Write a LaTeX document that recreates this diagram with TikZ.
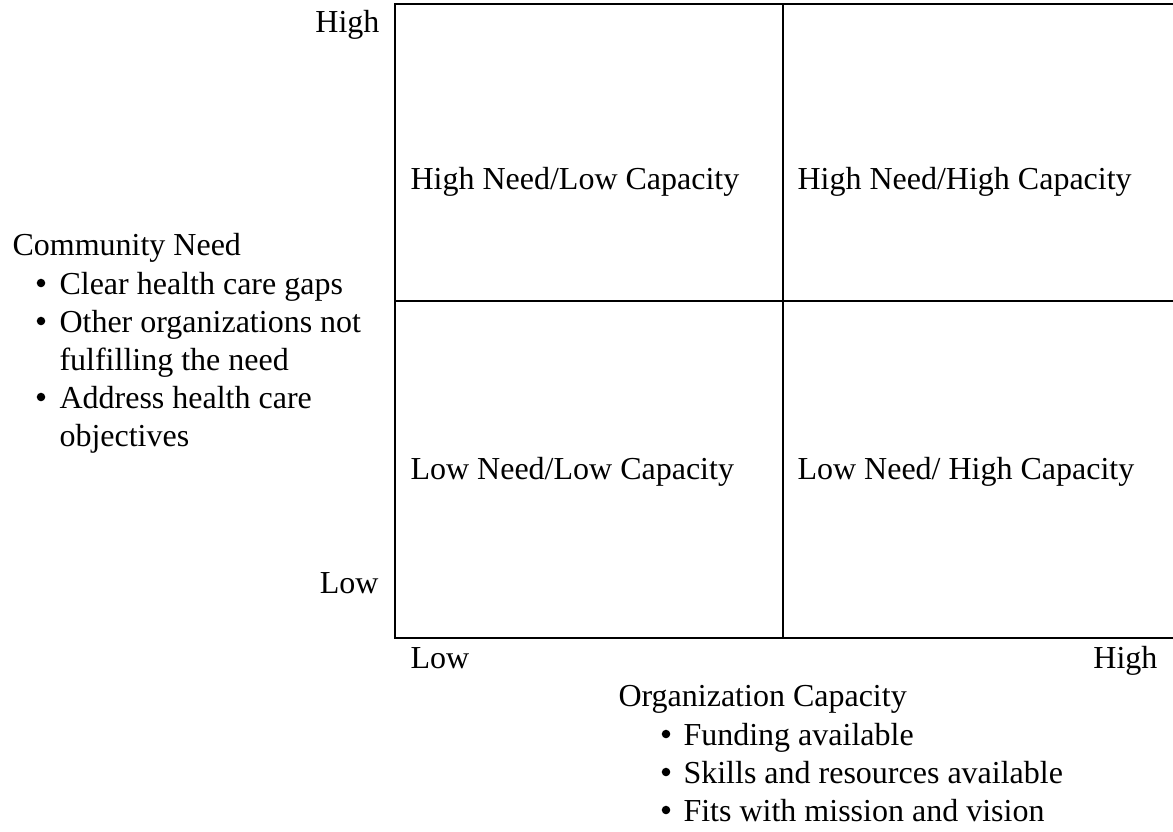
\documentclass[tikz,border=0pt]{standalone}
\usepackage{fontspec}
\setmainfont{Liberation Serif}
\usepackage{tikz}
\tikzset{
	lbl/.style={anchor=base west, inner sep=0pt, font=\fontsize{12}{14}\selectfont},
	lblr/.style={lbl, anchor=base east},
	dot/.style={circle, fill=black, inner sep=0pt, minimum size=3.2pt},
	grid/.style={line width=0.75pt}
}
\begin{document}
\begin{tikzpicture}[x=0.375pt, y=-0.375pt]
		%%%%% START %%%%%
		\useasboundingbox (0, 0) rectangle (1173, 831);
		
		% the four quadrants
		\draw[grid] (395, 4) rectangle (1180, 638);
		\draw[grid] (783, 4) -- (783, 638);
		\draw[grid] (395, 301) -- (1180, 301);
		
		\node[lbl] (hnlc) at (410, 189) {High Need/Low Capacity};
		\node[lbl] (hnhc) at (797, 189) {High Need/High Capacity};
		\node[lbl] (lnlc) at (410, 479) {Low Need/Low Capacity};
		\node[lbl] (lnhc) at (797, 479) {Low Need/ High Capacity};
		
		% vertical axis
		\node[lblr] (needhigh) at (380, 33) {High};
		\node[lblr] (needlow) at (379, 593) {Low};
		
		\node[lbl] (need) at (12, 255) {Community Need};
		\node[dot] (needb1) at (41, 283) {};
		\node[lbl] (needt1) at (59, 294) {Clear health care gaps};
		\node[dot] (needb2) at (41, 321) {};
		\node[lbl] (needt2) at (59, 332) {Other organizations not};
		\node[lbl] (needt2a) at (59, 370) {fulfilling the need};
		\node[dot] (needb3) at (41, 397) {};
		\node[lbl] (needt3) at (59, 408) {Address health care};
		\node[lbl] (needt3a) at (59, 446) {objectives};
		
		% horizontal axis
		\node[lbl] (caplow) at (410, 668) {Low};
		\node[lblr] (caphigh) at (1158, 668) {High};
		
		\node[lbl] (cap) at (618, 706) {Organization Capacity};
		\node[dot] (capb1) at (666, 734) {};
		\node[lbl] (capt1) at (683, 745) {Funding available};
		\node[dot] (capb2) at (666, 772) {};
		\node[lbl] (capt2) at (683, 783) {Skills and resources available};
		\node[dot] (capb3) at (666, 810) {};
		\node[lbl] (capt3) at (683, 821) {Fits with mission and vision};
		
		%%%%% END %%%%%
	\end{tikzpicture}
\end{document}
